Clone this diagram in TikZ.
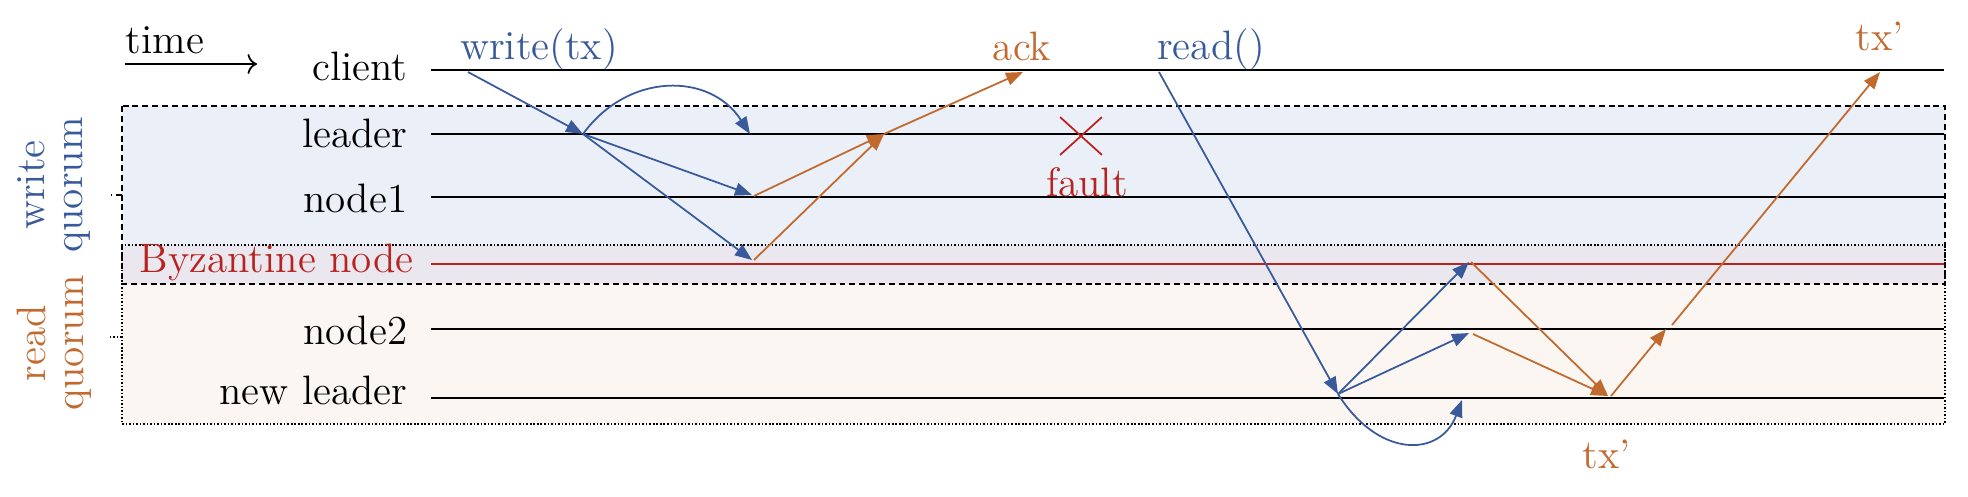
\documentclass[tikz,border=0pt]{standalone}
\usepackage{tikz}
\usetikzlibrary{arrows.meta,shapes.misc}

\definecolor{wblue}{RGB}{56,90,155}
\definecolor{rorange}{RGB}{194,105,46}
\definecolor{byzred}{RGB}{184,35,31}
\definecolor{wfill}{RGB}{234,239,248}
\definecolor{bfill}{RGB}{234,231,238}
\definecolor{rfill}{RGB}{251,246,242}

\begin{document}
\begin{tikzpicture}[
    every node/.style={font=\fontsize{11.7pt}{14pt}\selectfont, inner sep=0pt},
    lbl/.style={anchor=east},
    tag/.style={anchor=base},
    life/.style={line width=0.6pt},
    msg/.style={-{Triangle[length=1.7mm,width=1.3mm]}, line width=0.5pt},
    wmsg/.style={msg, wblue},
    rmsg/.style={msg, rorange},
    wbox/.style={dash pattern=on 1.7pt off 1.1pt, line width=0.55pt},
    rbox/.style={dash pattern=on 0.45pt off 0.55pt, line width=0.5pt},
    quorum/.style={rotate=90, align=center, font=\fontsize{11.7pt}{10.8pt}\selectfont}
]
    \useasboundingbox (0,0) rectangle (19.68,-4.96);

    % quorum areas
    \fill[wfill] (1.22,-1.06) rectangle (19.45,-2.45);
    \fill[bfill] (1.22,-2.45) rectangle (19.45,-2.84);
    \fill[rfill] (1.22,-2.84) rectangle (19.45,-4.24);
    \draw[wbox] (1.22,-1.06) rectangle (19.45,-2.84);
    \draw[rbox] (1.22,-2.45) rectangle (19.45,-4.24);
    \draw[wbox] (1.22,-1.95) -- (1.11,-1.95);
    \draw[rbox] (1.22,-3.37) -- (1.09,-3.37);

    \node[quorum, wblue] (wq) at (0.545,-1.85) {write\\quorum};
    \node[quorum, rorange] (rq) at (0.545,-3.43) {read\\quorum};

    % time
    \node[anchor=base west] (time) at (1.25,-0.53) {time};
    \coordinate (t0) at (1.25,-0.64);
    \coordinate (t1) at (2.57,-0.64);
    \draw[->, line width=0.5pt] (t0) -- (t1);

    % lifelines
    \foreach \n/\y/\ly/\t in {client/0.70/0.66/client, leader/1.34/1.33/leader,
        node1/1.97/1.98/node1, node2/3.29/3.30/node2, newl/3.98/3.90/new leader} {
        \node[lbl] (\n) at (4.08,-\ly) {\t};
        \coordinate (\n-s) at (4.31,-\y);
        \coordinate (\n-e) at (19.44,-\y);
        \draw[life] (\n-s) -- (\n-e);
    }
    \node[lbl, byzred] (byz) at (4.14,-2.62) {Byzantine node};
    \coordinate (byz-s) at (4.31,-2.64);
    \coordinate (byz-e) at (19.44,-2.64);
    \draw[life, byzred] (byz-s) -- (byz-e);

    % write
    \node[tag, wblue] (write) at (5.39,-0.59) {write(tx)};
    \coordinate (w0) at (4.68,-0.72);
    \coordinate (ld) at (5.83,-1.34);
    \coordinate (ld2) at (7.50,-1.34);
    \coordinate (n1a) at (7.52,-1.95);
    \coordinate (bza) at (7.52,-2.60);
    \draw[wmsg] (w0) -- (ld);
    \draw[wmsg] (ld) .. controls (6.28,-0.72) and (7.10,-0.72) .. (ld2);
    \draw[wmsg] (ld) -- (n1a);
    \draw[wmsg] (ld) -- (bza);

    % ack
    \node[tag, rorange] (ack) at (10.22,-0.60) {ack};
    \coordinate (n1b) at (7.54,-1.96);
    \coordinate (bzb) at (7.54,-2.60);
    \coordinate (ldb) at (8.84,-1.34);
    \coordinate (ackp) at (10.23,-0.72);
    \draw[rmsg] (n1b) -- (ldb);
    \draw[rmsg] (bzb) -- (ldb);
    \draw[rmsg] (ldb) -- (ackp);

    % fault
    \node[cross out, draw=byzred, minimum width=0.40cm, minimum height=0.36cm,
        line width=0.5pt] (fault-x) at (10.81,-1.36) {};
    \node[tag, byzred] (fault) at (10.87,-1.96) {fault};

    % read
    \node[tag, wblue] (read) at (12.11,-0.59) {read()};
    \coordinate (r0) at (11.59,-0.72);
    \coordinate (nl) at (13.38,-3.94);
    \coordinate (bz2) at (14.69,-2.62);
    \coordinate (n2a) at (14.69,-3.33);
    \coordinate (nl2) at (14.62,-4.00);
    \draw[wmsg] (r0) -- (nl);
    \draw[wmsg] (nl) -- (bz2);
    \draw[wmsg] (nl) -- (n2a);
    \draw[wmsg] (nl) .. controls (13.78,-4.58) and (14.40,-4.58) .. (nl2);

    % reply
    \coordinate (bz2b) at (14.71,-2.62);
    \coordinate (n2b) at (14.73,-3.34);
    \coordinate (nlb) at (16.08,-3.96);
    \coordinate (nlc) at (16.11,-3.96);
    \coordinate (n2c) at (16.66,-3.29);
    \coordinate (n2d) at (16.72,-3.25);
    \coordinate (cl) at (18.80,-0.72);
    \draw[rmsg] (bz2b) -- (nlb);
    \draw[rmsg] (n2b) -- (nlb);
    \draw[rmsg] (nlc) -- (n2c);
    \draw[rmsg] (n2d) -- (cl);
    \node[tag, rorange] (txb) at (16.07,-4.68) {tx'};
    \node[tag, rorange] (txt) at (18.80,-0.50) {tx'};
\end{tikzpicture}
\end{document}
